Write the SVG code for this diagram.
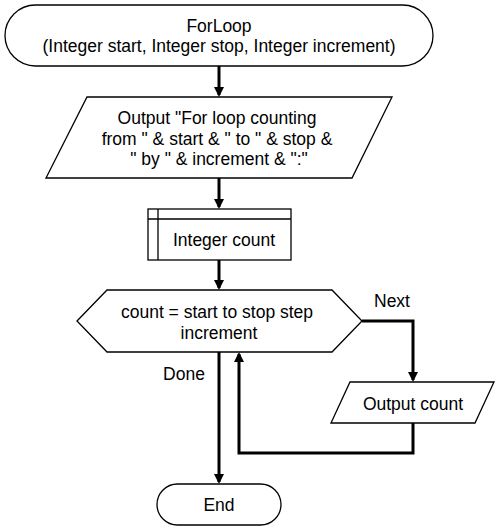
<svg xmlns="http://www.w3.org/2000/svg" width="500" height="531" viewBox="0 0 500 531">
<style>
.s{fill:#fff;stroke:#000;stroke-width:1.3}
.t{font-family:"Liberation Sans",Arial,sans-serif;font-size:17.5px;fill:#000;text-anchor:middle}
.c{fill:none;stroke:#000;stroke-width:3}
</style>
<defs>
<marker id="a" markerWidth="10" markerHeight="10" refX="8" refY="5" orient="auto" markerUnits="userSpaceOnUse" viewBox="0 0 10 10">
<path d="M0,0 L10,5 L0,10 z" fill="#000"/>
</marker>
</defs>
<rect width="500" height="531" fill="#fff"/>
<g id="connectors">
<path class="c" d="M219,66 V95" marker-end="url(#a)"/>
<path class="c" d="M219,178 V207" marker-end="url(#a)"/>
<path class="c" d="M219,260 V288" marker-end="url(#a)"/>
<path class="c" d="M362,321 H413 V380" marker-end="url(#a)"/>
<path class="c" d="M413,423 V453 H239 V354" marker-end="url(#a)"/>
<path class="c" d="M219,352 V482" marker-end="url(#a)"/>
<text class="t" x="392" y="307">Next</text>
<text class="t" x="184" y="380">Done</text>
</g>
<g id="start">
<rect class="s" x="5" y="5" width="428" height="61" rx="30.5"/>
<text class="t" x="219" y="32">ForLoop</text>
<text class="t" x="219" y="52">(Integer start, Integer stop, Integer increment)</text>
</g>
<g id="output1">
<polygon class="s" points="87,97 392,97 352,178 46,178"/>
<text class="t" x="217" y="124">Output "For loop counting</text>
<text class="t" x="217" y="145">from " &amp; start &amp; " to " &amp; stop &amp;</text>
<text class="t" x="219" y="165">" by " &amp; increment &amp; ":"</text>
</g>
<g id="declare">
<rect class="s" x="148" y="209" width="143" height="51"/>
<path class="s" d="M158,209 V260 M148,219 H291"/>
<text class="t" x="224" y="246">Integer count</text>
</g>
<g id="loop">
<polygon class="s" points="77,321 107,290 332,290 362,321 332,352 107,352"/>
<text class="t" x="217" y="318">count = start to stop step</text>
<text class="t" x="219" y="339">increment</text>
</g>
<g id="output2">
<polygon class="s" points="350,382 494,382 475,423 331,423"/>
<text class="t" x="413" y="410">Output count</text>
</g>
<g id="end">
<rect class="s" x="157" y="484" width="124" height="41" rx="20.5"/>
<text class="t" x="219" y="511">End</text>
</g>
</svg>
